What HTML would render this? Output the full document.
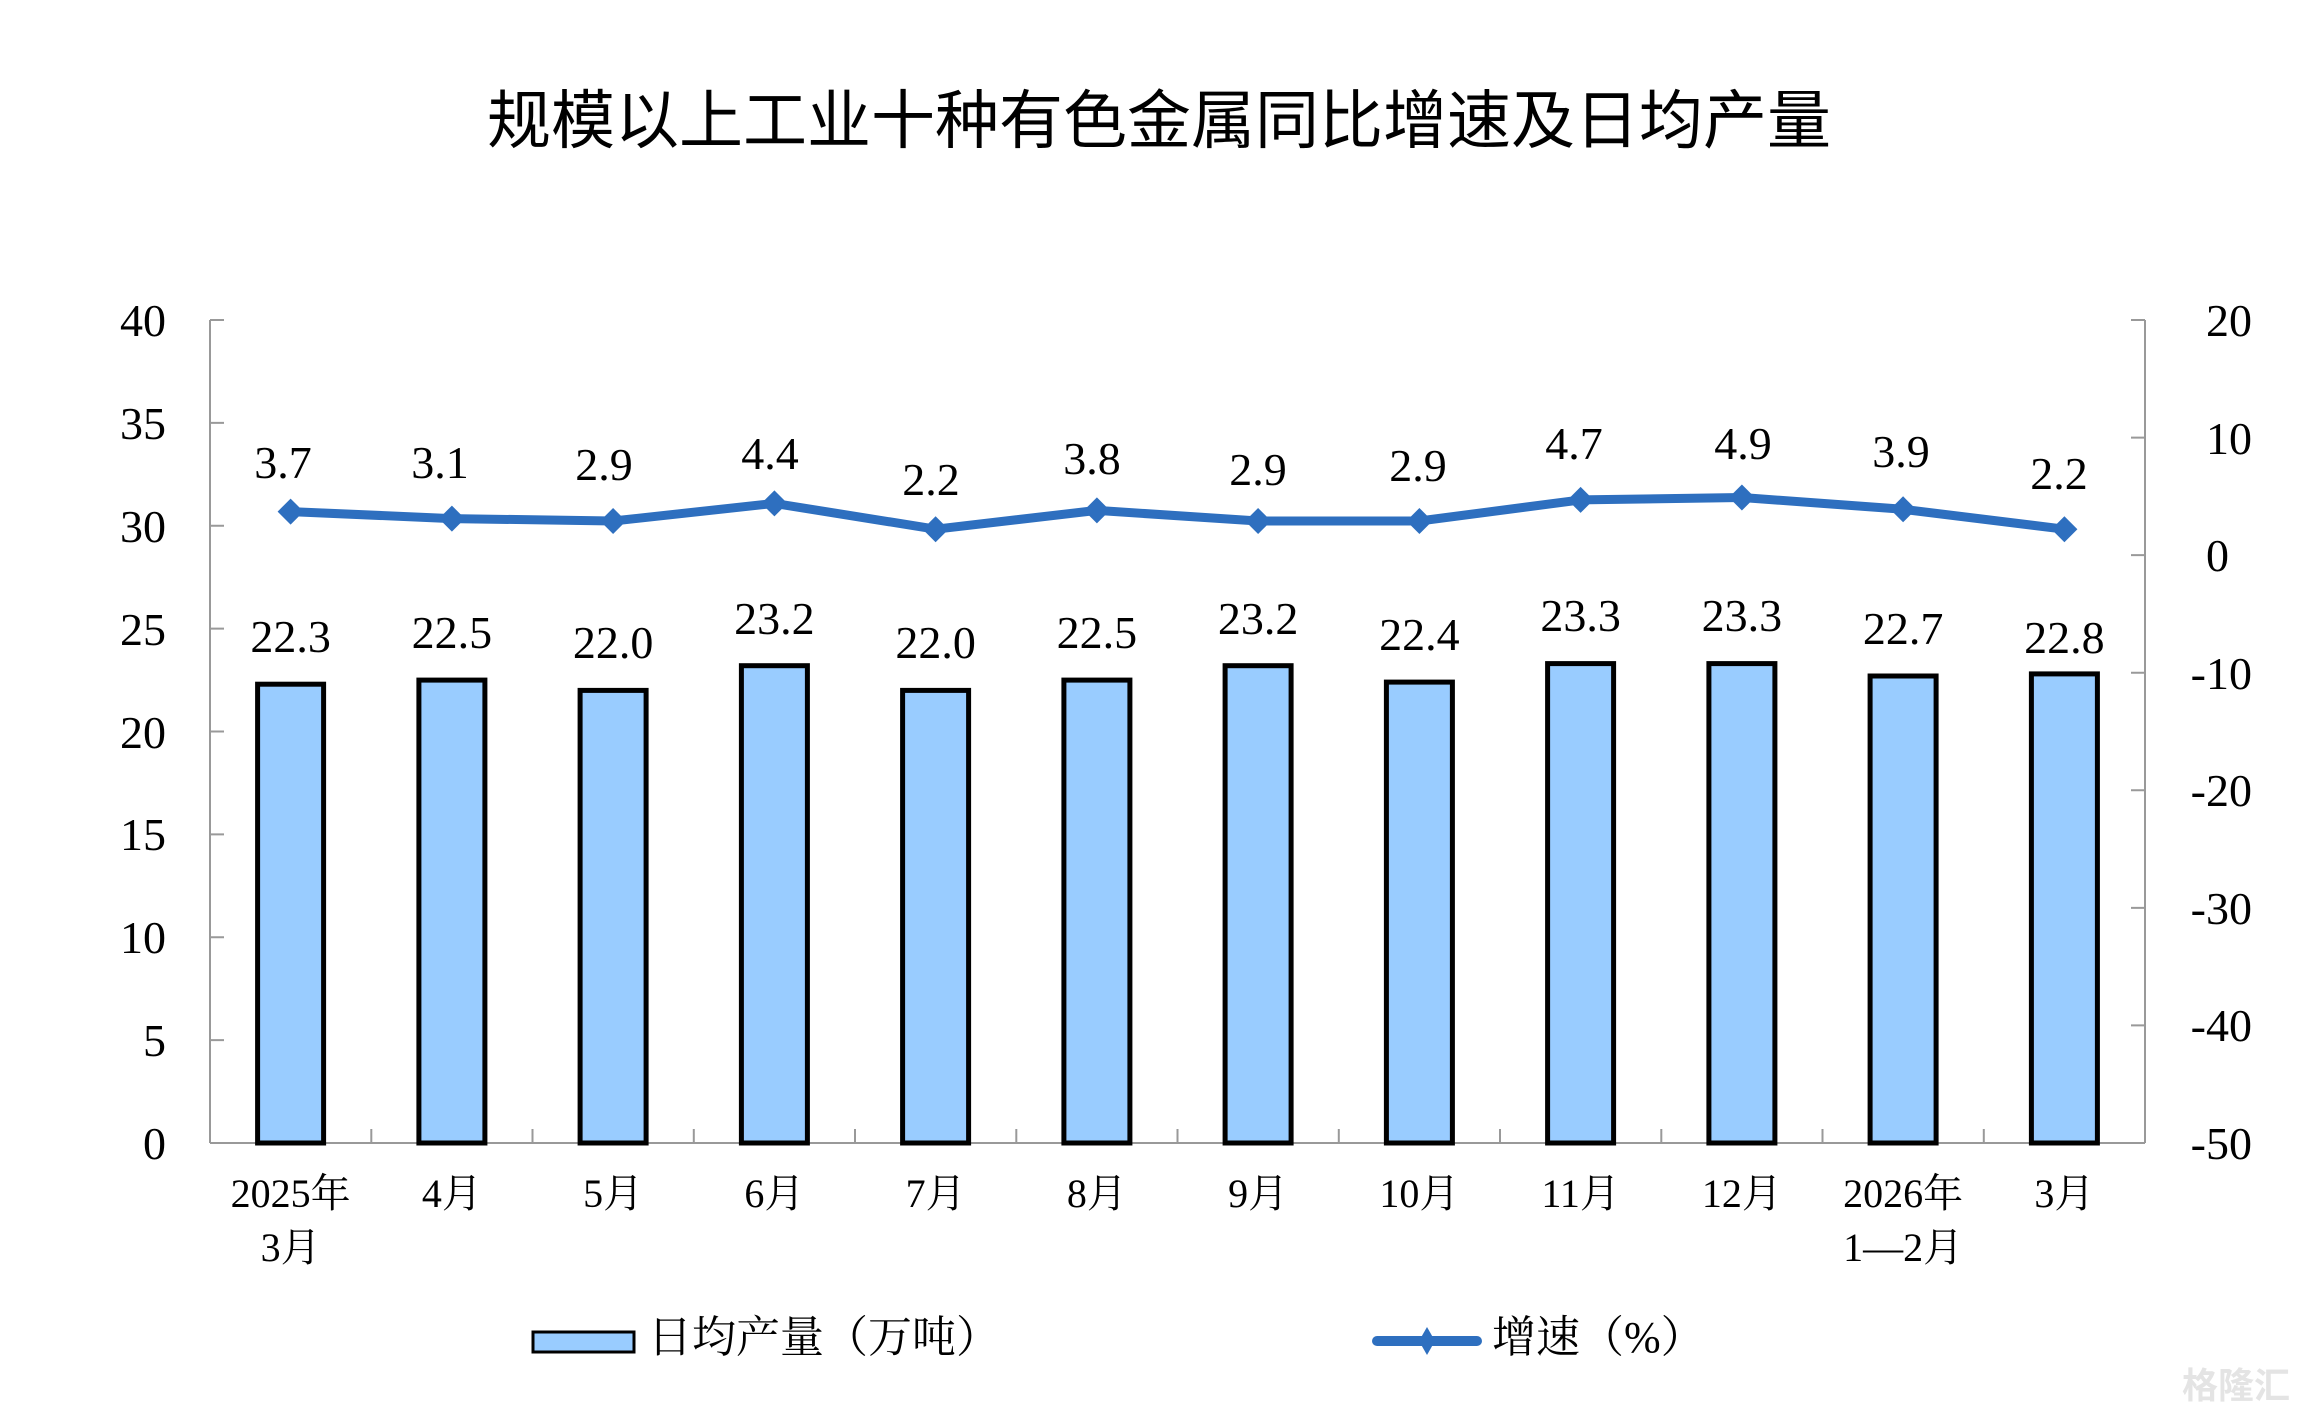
<!DOCTYPE html>
<html><head><meta charset="utf-8"><style>
html,body{margin:0;padding:0;background:#fff;}
svg{display:block;}
.t{font-family:"Liberation Serif","Noto Serif CJK SC",serif;font-size:46px;fill:#000;}
.l{font-family:"Liberation Serif","Noto Serif CJK SC",serif;font-size:44px;fill:#000;}
.c{font-family:"Liberation Serif","Noto Serif CJK SC",serif;font-size:40px;fill:#000;}
</style></head><body>
<svg width="2304" height="1416" viewBox="0 0 2304 1416" xmlns="http://www.w3.org/2000/svg">
<text x="1159" y="143" text-anchor="middle" font-family="'Noto Sans CJK SC',sans-serif" font-size="64" font-weight="400" fill="#000">规模以上工业十种有色金属同比增速及日均产量</text>
<g stroke="#999" stroke-width="2" fill="none">
<line x1="210" y1="320" x2="210" y2="1143"/>
<line x1="2145" y1="320" x2="2145" y2="1143"/>
<line x1="210" y1="1143" x2="2145" y2="1143"/>
<path d="M210 320h14M210 422.9h14M210 525.8h14M210 628.6h14M210 731.5h14M210 834.4h14M210 937.2h14M210 1040.1h14"/>
<path d="M2145 320h-14M2145 437.6h-14M2145 555.1h-14M2145 672.7h-14M2145 790.3h-14M2145 907.9h-14M2145 1025.4h-14"/>
<path d="M371.3 1143v-14M532.5 1143v-14M693.8 1143v-14M855 1143v-14M1016.3 1143v-14M1177.5 1143v-14M1338.8 1143v-14M1500 1143v-14M1661.3 1143v-14M1822.5 1143v-14M1983.8 1143v-14"/>
</g>
<g class="t" text-anchor="end">
<text x="166" y="336">40</text><text x="166" y="439">35</text><text x="166" y="542">30</text><text x="166" y="645">25</text><text x="166" y="748">20</text><text x="166" y="850">15</text><text x="166" y="953">10</text><text x="166" y="1056">5</text><text x="166" y="1159">0</text>
</g>
<g class="t" text-anchor="end">
<text x="2252" y="336">20</text><text x="2252" y="454">10</text><text x="2229" y="571">0</text><text x="2252" y="689">-10</text><text x="2252" y="806">-20</text><text x="2252" y="924">-30</text><text x="2252" y="1041">-40</text><text x="2252" y="1159">-50</text>
</g>
<g fill="#99ccff" stroke="#000" stroke-width="5">
<rect x="257.6" y="684.2" width="66" height="458.8"/>
<rect x="418.9" y="680.1" width="66" height="462.9"/>
<rect x="580.1" y="690.4" width="66" height="452.6"/>
<rect x="741.4" y="665.7" width="66" height="477.3"/>
<rect x="902.6" y="690.4" width="66" height="452.6"/>
<rect x="1063.9" y="680.1" width="66" height="462.9"/>
<rect x="1225.1" y="665.7" width="66" height="477.3"/>
<rect x="1386.4" y="682.1" width="66" height="460.9"/>
<rect x="1547.6" y="663.6" width="66" height="479.4"/>
<rect x="1708.9" y="663.6" width="66" height="479.4"/>
<rect x="1870.1" y="676" width="66" height="467"/>
<rect x="2031.4" y="673.9" width="66" height="469.1"/>
</g>
<g class="t" text-anchor="middle">
<text x="290.6" y="652">22.3</text><text x="451.9" y="648">22.5</text><text x="613.1" y="658">22.0</text><text x="774.4" y="634">23.2</text><text x="935.6" y="658">22.0</text><text x="1096.9" y="648">22.5</text><text x="1258.1" y="634">23.2</text><text x="1419.4" y="650">22.4</text><text x="1580.6" y="631">23.3</text><text x="1741.9" y="631">23.3</text><text x="1903.1" y="644">22.7</text><text x="2064.4" y="653">22.8</text>
</g>
<polyline fill="none" stroke="#2e6fbf" stroke-width="9" stroke-linejoin="round" points="290.6,511.6 451.9,518.6 613.1,521 774.4,503.4 935.6,529.2 1096.9,510.4 1258.1,521 1419.4,521 1580.6,499.9 1741.9,497.5 1903.1,509.3 2064.4,529.2"/>
<g fill="#2e6fbf">
<path d="M290.6 498.6l13 13-13 13-13-13z"/><path d="M451.9 505.6l13 13-13 13-13-13z"/><path d="M613.1 508l13 13-13 13-13-13z"/><path d="M774.4 490.4l13 13-13 13-13-13z"/><path d="M935.6 516.2l13 13-13 13-13-13z"/><path d="M1096.9 497.4l13 13-13 13-13-13z"/><path d="M1258.1 508l13 13-13 13-13-13z"/><path d="M1419.4 508l13 13-13 13-13-13z"/><path d="M1580.6 486.9l13 13-13 13-13-13z"/><path d="M1741.9 484.5l13 13-13 13-13-13z"/><path d="M1903.1 496.3l13 13-13 13-13-13z"/><path d="M2064.4 516.2l13 13-13 13-13-13z"/>
</g>
<g class="t" text-anchor="middle">
<text x="283" y="478">3.7</text><text x="440" y="478">3.1</text><text x="604" y="480">2.9</text><text x="770" y="469">4.4</text><text x="931" y="495">2.2</text><text x="1092" y="474">3.8</text><text x="1258" y="485">2.9</text><text x="1418" y="481">2.9</text><text x="1574" y="459">4.7</text><text x="1743" y="459">4.9</text><text x="1901" y="467">3.9</text><text x="2059" y="489">2.2</text>
</g>
<g class="c" text-anchor="middle">
<text x="290.6" y="1207">2025年</text><text x="290.6" y="1261">3月</text>
<text x="451.9" y="1207">4月</text><text x="613.1" y="1207">5月</text><text x="774.4" y="1207">6月</text><text x="935.6" y="1207">7月</text><text x="1096.9" y="1207">8月</text><text x="1258.1" y="1207">9月</text><text x="1419.4" y="1207">10月</text><text x="1580.6" y="1207">11月</text><text x="1741.9" y="1207">12月</text>
<text x="1903.1" y="1207">2026年</text><text x="1903.1" y="1261">1—2月</text>
<text x="2064.4" y="1207">3月</text>
</g>
<rect x="533" y="1332" width="101" height="20" fill="#99ccff" stroke="#000" stroke-width="3"/>
<text x="648" y="1352" class="l">日均产量（万吨）</text>
<line x1="1377" y1="1341" x2="1477" y2="1341" stroke="#2e6fbf" stroke-width="10" stroke-linecap="round"/>
<path d="M1427 1327l8 14-8 14-8-14z" fill="#2e6fbf"/>
<text x="1492" y="1352" class="l">增速（%）</text>
<text x="2290" y="1398" text-anchor="end" font-family="'Noto Sans CJK SC',sans-serif" font-size="36" font-weight="bold" fill="#e4e4e4">格隆汇</text>
</svg>
</body></html>
